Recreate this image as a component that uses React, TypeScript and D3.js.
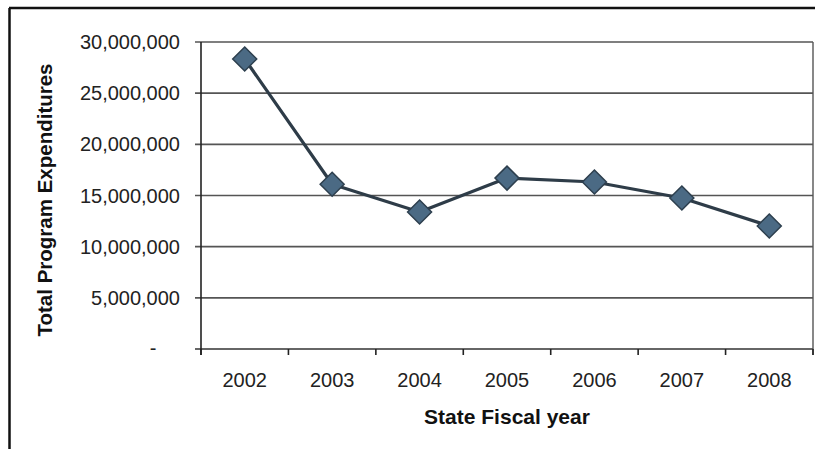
import React from "react";
import * as d3 from "d3";

const years = ["2002", "2003", "2004", "2005", "2006", "2007", "2008"];
const expenditures = [28340000, 16100000, 13390000, 16700000, 16320000, 14760000, 12020000];
const yTicks = [0, 5000000, 10000000, 15000000, 20000000, 25000000, 30000000];
const yTickLabels = ["-", "5,000,000", "10,000,000", "15,000,000", "20,000,000", "25,000,000", "30,000,000"];
const xTitle = "State Fiscal year";
const yTitle = "Total Program Expenditures";

export default function App() {
  const W = 815, H = 449;
  const left = 201, right = 813, top = 42, bottom = 349;
  const x = d3.scaleBand<string>().domain(years).range([left, right]).padding(0);
  const y = d3.scaleLinear().domain([0, 30000000]).range([bottom, top]);
  const line = d3.line<number>()
    .x((_, i) => (x(years[i]) as number) + x.bandwidth() / 2)
    .y((d) => y(d));
  const font = "'Liberation Sans', Arial, sans-serif";
  const boundaries = years.map((yr) => x(yr) as number).concat([right]);
  const r = 12;
  return (
    <svg width={W} height={H} style={{ position: "absolute", left: 0, top: 0, background: "#fff" }}>
      <rect x={0} y={0} width={W} height={H} fill="#fff" />
      {/* frame */}
      <line x1={9} y1={8} x2={W} y2={8} stroke="#111" strokeWidth={2.5} />
      <line x1={9.5} y1={8} x2={9.5} y2={H} stroke="#111" strokeWidth={2.5} />
      {/* gridlines */}
      {yTicks.map((t, i) => (
        <g key={t}>
          <line x1={195} x2={right} y1={y(t)} y2={y(t)} stroke={i === 0 ? "#333" : "#555"} strokeWidth={1.6} />
          {i === 0 ? (
            <text x={153} y={y(t) + 6} fontFamily={font} fontSize={20} textAnchor="middle" fill="#222">{yTickLabels[i]}</text>
          ) : (
            <text x={180} y={y(t) + 7} fontFamily={font} fontSize={20} textAnchor="end" fill="#222">{yTickLabels[i]}</text>
          )}
        </g>
      ))}
      {/* axes */}
      <line x1={left} x2={left} y1={top} y2={bottom + 6} stroke="#222" strokeWidth={1.6} />
      <line x1={right} x2={right} y1={top} y2={bottom + 6} stroke="#555" strokeWidth={1.4} />
      {boundaries.map((b, i) => (
        <line key={i} x1={b} x2={b} y1={bottom} y2={bottom + 6} stroke="#222" strokeWidth={1.6} />
      ))}
      {years.map((yr) => (
        <text key={yr} x={(x(yr) as number) + x.bandwidth() / 2} y={387} fontFamily={font} fontSize={20} textAnchor="middle" fill="#222">{yr}</text>
      ))}
      {/* line */}
      <path d={line(expenditures) || ""} fill="none" stroke="#2e3c48" strokeWidth={3.2} strokeLinejoin="round" />
      {expenditures.map((v, i) => {
        const cx = (x(years[i]) as number) + x.bandwidth() / 2;
        const cy = y(v);
        return (
          <path key={i} d={`M${cx},${cy - r}L${cx + r},${cy}L${cx},${cy + r}L${cx - r},${cy}Z`} fill="#4b6a84" stroke="#2d3f4e" strokeWidth={1.5} />
        );
      })}
      {/* titles */}
      <text x={507} y={424} fontFamily={font} fontSize={21} fontWeight="bold" textAnchor="middle" fill="#111">{xTitle}</text>
      <text transform={`translate(52,200) rotate(-90)`} fontFamily={font} fontSize={20.5} fontWeight="bold" textAnchor="middle" fill="#111">{yTitle}</text>
    </svg>
  );
}
